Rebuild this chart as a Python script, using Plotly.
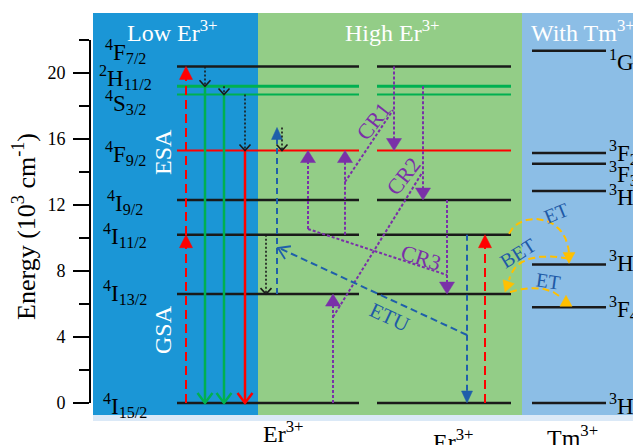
import numpy as np
import plotly.graph_objects as go

# ---------------- data ----------------
er_names = ["4I15/2", "4I13/2", "4I11/2", "4I9/2", "4F9/2", "4S3/2", "2H11/2", "4F7/2"]
er_labels = ["<sup>4</sup>I<sub>15/2</sub>", "<sup>4</sup>I<sub>13/2</sub>", "<sup>4</sup>I<sub>11/2</sub>",
             "<sup>4</sup>I<sub>9/2</sub>", "<sup>4</sup>F<sub>9/2</sub>", "<sup>4</sup>S<sub>3/2</sub>",
             "<sup>2</sup>H<sub>11/2</sub>", "<sup>4</sup>F<sub>7/2</sub>"]
er_energy = [0.0, 6.6, 10.2, 12.3, 15.3, 18.7, 19.2, 20.4]

tm_names = ["3H6", "3F4", "3H5", "3H4", "3F3", "3F2", "1G4"]
tm_labels = ["<sup>3</sup>H<sub>6</sub>", "<sup>3</sup>F<sub>4</sub>", "<sup>3</sup>H<sub>5</sub>",
             "<sup>3</sup>H<sub>4</sub>", "<sup>3</sup>F<sub>3</sub>", "<sup>3</sup>F<sub>2</sub>",
             "<sup>1</sup>G<sub>4</sub>"]
tm_energy = [0.0, 5.8, 8.4, 12.85, 14.5, 15.15, 21.35]

major_ticks = [0, 4, 8, 12, 16, 20]
tick_text = ["0", "4", "8", "12", "16", "20"]
minor_ticks = [2, 6, 10, 14, 18, 22]
axis_top = 22

panel_titles = ["Low Er<sup>3+</sup>", "High Er<sup>3+</sup>", "With Tm<sup>3+</sup>"]
ion_labels = ["Er<sup>3+</sup>", "Er<sup>3+</sup>", "Tm<sup>3+</sup>"]
esa_tip = 16.7          # top of the blue ESA arrow

E = dict(zip(er_names, er_energy))
T = dict(zip(tm_names, tm_energy))

# ---------------- layout geometry ----------------
# the page body adds an 8 px offset, so the figure is drawn 8 px smaller
OFF = 8
WIN_W, WIN_H = 641, 445
W, H = WIN_W - OFF, WIN_H - OFF
AX_X = 90                      # window x of the y axis
ML = AX_X - OFF
Y0, PXU = 403.0, 16.5          # window row of zero energy, pixels per 10^3 cm^-1
Y_RANGE = [(Y0 - WIN_H) / PXU, (Y0 - OFF) / PXU]
FONT = "Liberation Serif"

BLACK, GREEN, RED = "#1a1a1a", "#00b050", "#ff0000"
PURPLE, BLUE, GOLD = "#7a30a8", "#1f5faa", "#ffc000"
TXTBLUE = "#1e5aa6"


def ey(p):
    return (Y0 - p) / PXU


def py(e):
    return Y0 - e * PXU


fig = go.Figure()


def add_path(xs, ps, color, width=2.0, dash="solid", fill=False):
    fig.add_trace(go.Scatter(
        x=list(xs), y=[ey(p) for p in ps], mode="lines",
        line=dict(color=color, width=width if not fill else 0.5, dash=dash),
        fill="toself" if fill else None, fillcolor=color if fill else None,
        hoverinfo="skip", showlegend=False))


def head(tx, tp, dx, dy, L, Wd, color, kind="tri", width=2.0):
    n = np.hypot(dx, dy)
    ux, uy = dx / n, dy / n
    bx, bp = tx - ux * L, tp - uy * L
    qx, qy = -uy, ux
    c1 = (bx + qx * Wd / 2, bp + qy * Wd / 2)
    c2 = (bx - qx * Wd / 2, bp - qy * Wd / 2)
    if kind == "tri":
        add_path([tx, c1[0], c2[0], tx], [tp, c1[1], c2[1], tp], color, fill=True)
    else:
        add_path([c1[0], tx, c2[0]], [c1[1], tp, c2[1]], color, width=width)


def varrow(x, e0, e1, color, dash="solid", kind="tri", L=12, Wd=13, width=2.0):
    p0, p1 = py(e0), py(e1)
    d = 1 if p1 > p0 else -1
    add_path([x, x], [p0, p1 - (d * L * 0.6 if kind == "tri" else 0)], color, width, dash)
    if kind:
        head(x, p1, 0, d, L, Wd, color, kind, width)


def seg(x0, e0, x1, e1, color, dash, width=2.0):
    add_path([x0, x1], [py(e0), py(e1)], color, width, dash)


def bezier(p0, p1, p2, p3, color, dash, width=2.0, n=40):
    t = np.linspace(0, 1, n)[:, None]
    P = ((1 - t) ** 3) * np.array(p0) + 3 * ((1 - t) ** 2) * t * np.array(p1) \
        + 3 * (1 - t) * t ** 2 * np.array(p2) + t ** 3 * np.array(p3)
    add_path(P[:, 0], P[:, 1], color, width, dash)


# ---------------- background panels ----------------
panels = [(93, 258, "#1b96d6"), (258, 522, "#93cd87"), (522, 645, "#8cbee6")]
shapes = []
for x0, x1, c in panels:
    shapes.append(dict(type="rect", xref="x", yref="y", x0=x0, x1=x1, y0=ey(415), y1=ey(13),
                       fillcolor=c, line=dict(width=0), layer="below"))
shapes.append(dict(type="rect", xref="x", yref="y", x0=93, x1=645, y0=ey(421), y1=ey(415),
                   fillcolor="rgba(190,215,240,0.55)", line=dict(width=0), layer="below"))
# y-axis line from 0 to the top tick
shapes.append(dict(type="line", xref="paper", yref="y", x0=0, x1=0, y0=0, y1=axis_top,
                   line=dict(color="black", width=2)))

# ---------------- energy levels ----------------
DASH_DOT = "2px,2px"
for name, e in zip(er_names, er_energy):
    col = GREEN if name in ("4S3/2", "2H11/2") else (RED if name == "4F9/2" else BLACK)
    w = 3 if name == "2H11/2" else (2 if col == GREEN else 2.5 if col == BLACK else 2)
    for xa, xb in [(177, 359), (377, 511)]:
        add_path([xa, xb], [py(e), py(e)], col, w)
for e in tm_energy:
    add_path([532, 606], [py(e), py(e)], BLACK, 2.5)

# ---------------- Low Er3+ panel ----------------
add_path([186, 186], [py(0), py(E["4F7/2"]) + 8], RED, 2, "9px,5px")
head(186, py(E["4F7/2"]), 0, -1, 13, 13, RED)
head(186, py(E["4I11/2"]), 0, -1, 13, 13, RED)
varrow(205, E["2H11/2"], 0, GREEN, "solid", "v", 10, 15, 2.5)
varrow(224, E["4S3/2"], 0, GREEN, "solid", "v", 10, 15, 2.5)
varrow(245, E["4F9/2"], 0, RED, "solid", "v", 10, 15, 2.5)
varrow(205, E["4F7/2"], E["2H11/2"], BLACK, DASH_DOT, "v", 6, 11, 1.6)
varrow(224, E["2H11/2"], E["4S3/2"], BLACK, DASH_DOT, "v", 6, 11, 1.6)
varrow(245, E["4S3/2"], E["4F9/2"], BLACK, DASH_DOT, "v", 6, 11, 1.6)

# ---------------- High Er3+ panel ----------------
PDOT = "3px,2px"
varrow(266, E["4I11/2"], E["4I13/2"], BLACK, DASH_DOT, "v", 6, 11, 1.6)
varrow(277, E["4I13/2"], esa_tip, BLUE, "6px,4px", "tri", 12, 11, 2)
varrow(282, esa_tip, E["4F9/2"], BLACK, DASH_DOT, "v", 6, 11, 1.6)

cr3_start = ey(229)
cr1_low, cr1_high = ey(182), ey(110)
cr2_low, cr2_high = ey(317), ey(173)
cr3_end = ey(275)
varrow(308, cr3_start, E["4F9/2"], PURPLE, PDOT, "tri", 12, 15, 2)
varrow(345, E["4I11/2"], E["4F9/2"], PURPLE, PDOT, "tri", 12, 15, 2)
seg(345, cr1_low, 393, cr1_high, PURPLE, PDOT)
varrow(394, E["4F7/2"], E["4F9/2"], PURPLE, PDOT, "tri", 12, 15, 2)
varrow(423, E["2H11/2"], E["4I9/2"], PURPLE, PDOT, "tri", 12, 15, 2)
seg(333, cr2_low, 422, cr2_high, PURPLE, PDOT)
varrow(333, 0, E["4I13/2"], PURPLE, PDOT, "tri", 12, 15, 2)
varrow(447, E["4I9/2"], E["4I13/2"], PURPLE, PDOT, "tri", 12, 15, 2)
seg(308, cr3_start, 447, cr3_end, PURPLE, PDOT)

varrow(467, E["4I11/2"], 0, BLUE, "6px,4px", "tri", 12, 11, 2)
etu0, etu1 = ey(335), ey(248)
seg(467, etu0, 279, etu1, BLUE, "7px,4px")
head(278, py(etu1), 278 - 467, py(etu1) - py(etu0), 11, 14, BLUE, "v", 1.8)
varrow(485, 0, E["4I11/2"], RED, "9px,5px", "tri", 13, 13, 2)

# ---------------- Er <-> Tm energy transfer ----------------
YD = "7px,4px"
p_a = py(E["4I11/2"])
p_b = py(T["3H5"])
p_c = py(E["4I13/2"])
p_d = py(T["3F4"])
bezier((509, p_a - 1), (520, p_a - 24), (566, p_a - 22), (569, p_b - 11), GOLD, YD)
head(569, p_b - 1, 0, 1, 11, 12, GOLD)
bezier((568, p_b - 6), (545, p_b - 10), (515, p_b - 10), (509, p_c - 14), GOLD, YD)
head(505, p_c - 2, -0.35, 1, 11, 12, GOLD)
bezier((510, p_c - 2), (527, p_c - 8), (552, p_c - 8), (561, p_d - 9), GOLD, YD)
head(566, p_d - 12, 0, -1, 11, 12, GOLD)

# ---------------- text ----------------
ann = []


def txt(x, p, s, size, color="black", angle=0, xanchor="center"):
    ann.append(dict(x=x, y=ey(p), xref="x", yref="y", text=s, showarrow=False,
                    font=dict(family=FONT, size=size, color=color), textangle=angle,
                    xanchor=xanchor, yanchor="middle"))


er_label_py = [405, 292, 235, 202, 153, 102, 77, 51]
for lab, p in zip(er_labels, er_label_py):
    txt(125, p, lab, 23)
tm_label_py = [405, 308, 262, 196, 173, 152, 61]
for lab, p in zip(tm_labels, tm_label_py):
    txt(607, p, lab, 23, xanchor="left")

for s, x in zip(panel_titles, [172, 392, 583]):
    txt(x, 31, s, 24, "white")
for s, x, p in zip(ion_labels, [283, 453, 572], [432, 440, 436]):
    txt(x, p, s, 24)

txt(163, 152, "ESA", 24, "white", -90)
txt(163, 330, "GSA", 24, "white", -90)
txt(373, 121, "CR1", 22, PURPLE, -52)
txt(403, 176, "CR2", 22, PURPLE, -52)
txt(421, 257, "CR3", 22, PURPLE, 18)
txt(389, 317, "ETU", 21, TXTBLUE, 25)
txt(556, 213, "ET", 20, TXTBLUE, -22)
txt(518, 253, "BET", 20, TXTBLUE, -32)
txt(548, 281, "ET", 20, TXTBLUE, 8)

fig.update_layout(
    width=W, height=H, margin=dict(l=ML, r=0, t=0, b=0, autoexpand=False),
    paper_bgcolor="white", plot_bgcolor="white",
    shapes=shapes, annotations=ann, showlegend=False,
    xaxis=dict(range=[AX_X, WIN_W], visible=False, fixedrange=True),
    yaxis=dict(range=Y_RANGE, tickmode="array", tickvals=major_ticks, ticktext=tick_text,
               ticks="outside", ticklen=16, tickwidth=2, tickcolor="black", automargin=False,
               showline=False, showgrid=False, zeroline=False, ticklabelstandoff=4,
               tickfont=dict(family=FONT, size=18, color="black"),
               minor=dict(tickmode="array", tickvals=minor_ticks, ticks="outside",
                          ticklen=10, tickwidth=2, tickcolor="black", showgrid=False),
               title=dict(text="Energy (10<sup>3</sup> cm<sup>-1</sup>)", standoff=8,
                          font=dict(family=FONT, size=26, color="black")),
               fixedrange=True),
)

fig.write_html("out.html")
